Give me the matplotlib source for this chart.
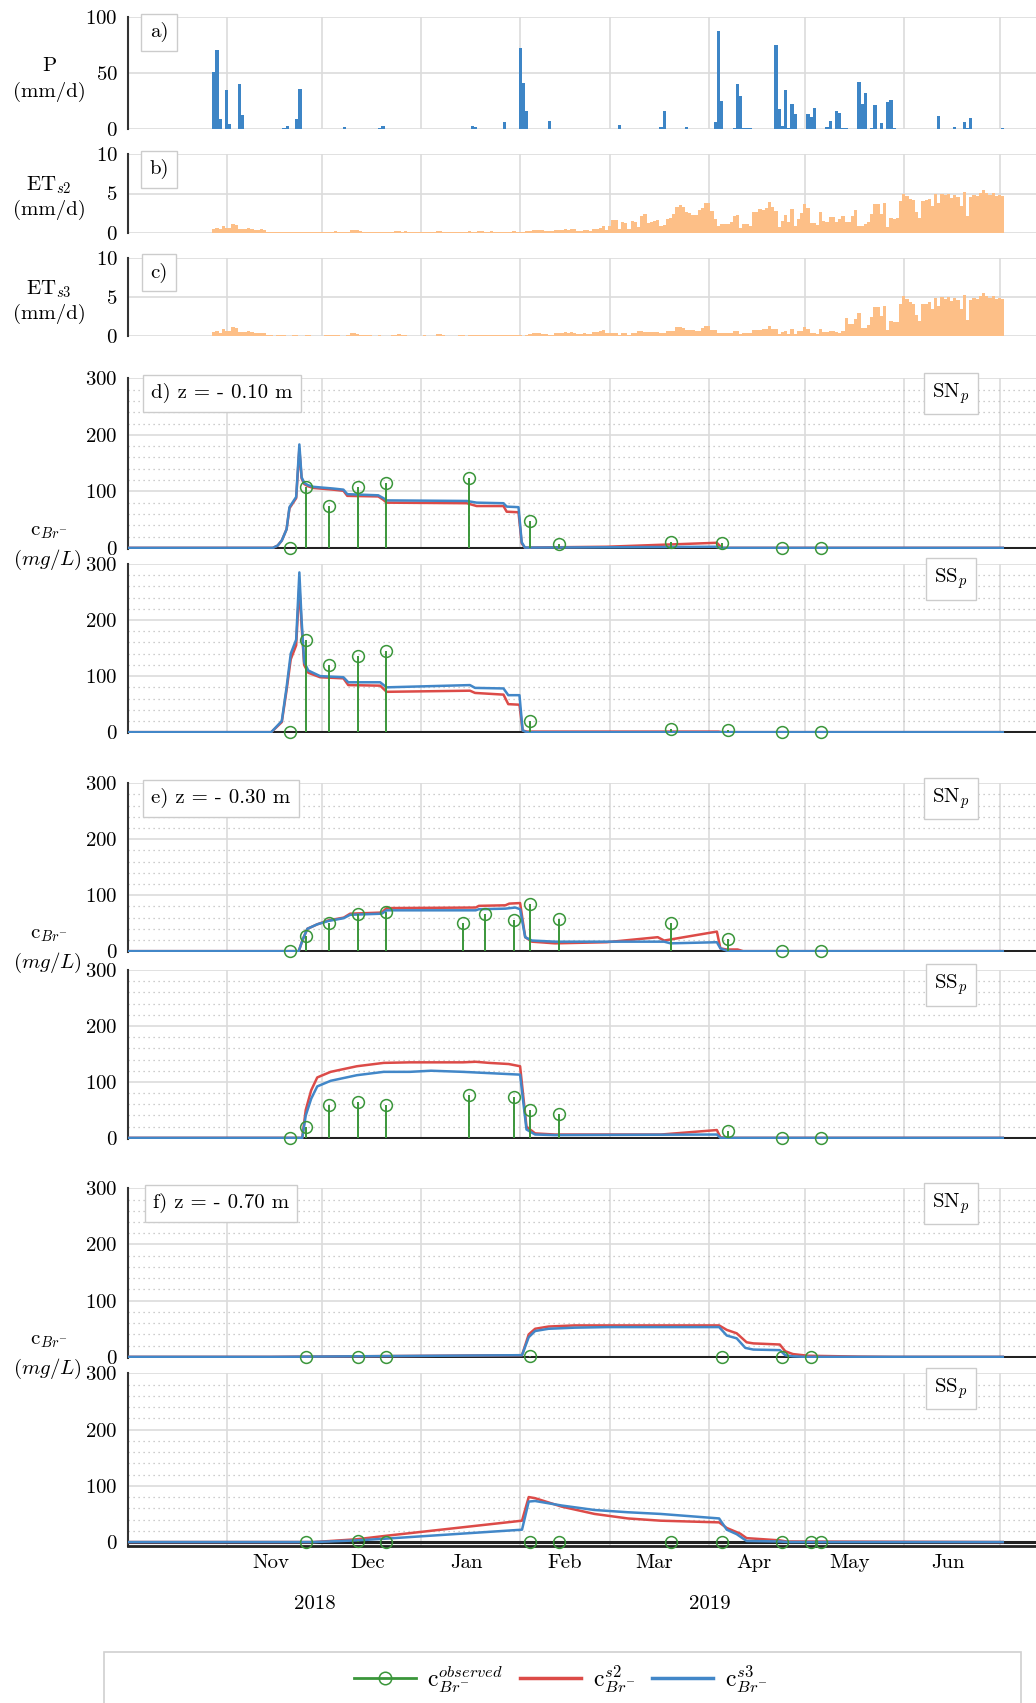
import datetime as dt

import matplotlib
matplotlib.use('Agg')
import matplotlib.pyplot as plt
import matplotlib.dates as mdates
import numpy as np
from matplotlib.legend_handler import HandlerLine2D
from matplotlib.lines import Line2D
from matplotlib.patches import Rectangle
from matplotlib.ticker import FixedLocator, MultipleLocator, NullFormatter

plt.rcParams['font.family'] = 'serif'
plt.rcParams['font.serif'] = ['cmr10']
plt.rcParams['mathtext.fontset'] = 'cm'
plt.rcParams['axes.formatter.use_mathtext'] = True
plt.rcParams['axes.unicode_minus'] = False
plt.rcParams['font.size'] = 15

# days counted from 2018-10-01
T0 = mdates.date2num(dt.datetime(2018, 10, 1))

# ---- precipitation (mm/d)
P_days = [27, 28, 29, 31, 32, 34, 35, 36, 41, 49, 50, 53, 54, 55, 57, 66, 68, 79, 80,
          108, 109, 114, 115, 118, 123, 124, 125, 132, 133, 154, 155, 156, 167, 168, 175,
          184, 185, 186, 190, 191, 192, 193, 194, 195, 203, 204, 205, 206, 207, 208, 209,
          213, 214, 215, 219, 220, 222, 223, 224, 225, 229, 230, 231, 233, 234, 236, 238,
          239, 240, 248, 254, 259, 262, 263, 264, 274]
P_vals = [51.5, 70.8, 9.2, 35, 4.8, 0.5, 40.8, 12.5, 0.6, 0.8, 2.7, 9.2, 35.7, 0.3, 0.3, 0.3, 2.4, 1.2, 3.0,
          2.7, 1.8, 0.6, 0.3, 6.5, 72.3, 41.4, 16.7, 7.1, 0.3, 4.2, 0.3, 0.5, 2, 16.5, 2,
          6.5, 88, 25, 1.5, 40.5, 30, 1, 1, 1, 75.6, 18, 3.3, 35, 1, 23, 14,
          14, 10.7, 18.7, 2, 7, 16.7, 14.3, 1, 1, 42, 22.6, 32, 1, 21.4, 5.4, 24,
          26, 1, 0.3, 11.6, 2.4, 6.5, 1.5, 9.8, 1]

# ---- evapotranspiration (mm/d), daily from day 27 to day 274
ET_early = [0.47, 0.60, 0.43, 0.86, 0.60, 0.65, 1.12, 1.03, 0.47, 0.50,
            0.50, 0.60, 0.50, 0.35, 0.38, 0.43, 0.35, 0.10, 0.08, 0.06,
            0.08, 0.10, 0.08, 0.06, 0.06, 0.10, 0.08, 0.06, 0.06, 0.13,
            0.10, 0.06, 0.06, 0.06, 0.06, 0.13, 0.13, 0.08, 0.17, 0.08,
            0.06, 0.06, 0.10, 0.35, 0.40, 0.30, 0.17, 0.10, 0.08, 0.13,
            0.06, 0.06, 0.08, 0.06, 0.06, 0.06, 0.08, 0.17, 0.22, 0.10,
            0.17, 0.06, 0.06, 0.06, 0.06, 0.06, 0.13, 0.06, 0.06, 0.06,
            0.22, 0.22, 0.10, 0.06, 0.06, 0.06, 0.06, 0.13, 0.10, 0.06,
            0.17, 0.13, 0.10,
            0.17, 0.17, 0.13, 0.08, 0.17, 0.13, 0.08, 0.13, 0.08, 0.13,
            0.13, 0.17, 0.08, 0.13, 0.05, 0.17, 0.26, 0.35, 0.35, 0.35,
            0.30, 0.26, 0.17, 0.17, 0.35, 0.35, 0.35, 0.48, 0.40, 0.52,
            0.43, 0.26, 0.26, 0.35, 0.30, 0.26, 0.48, 0.52]
ET_s2_late = [0.6, 0.8, 0.35, 0.9, 1.65, 1.65, 0.5, 1.4, 1.25, 0.5,
              1.43, 1.35, 0.7, 2.1, 2.4, 1.25, 1.4, 1.55, 1.65, 0.9,
              0.95, 1.73, 1.9, 2.4, 3.3, 3.5, 3.3, 2.65, 2.55, 2.2,
              2.3, 2.85, 3.15, 3.8, 3.8, 2.75, 1.75, 0.8, 1.05, 1.05,
              1.1, 1.4, 2.1, 2.3, 0.6, 1.05, 1.1, 0.9, 2.6, 2.65,
              3.05, 2.95, 3.2, 3.95, 3.3, 2.75, 0.7, 1.5, 2.3, 1.4,
              3.0, 0.9, 1.8, 2.5, 3.65, 3.15, 1.2, 1.2, 0.95, 2.65,
              1.5, 1.4, 2.0, 2.0, 1.35, 1.8, 2.15, 1.4, 1.4, 2.1,
              2.85, 0.9, 0.9, 1.1, 1.35, 2.35, 3.65, 3.65, 2.4, 3.8,
              0.7, 1.9, 1.78, 1.85, 4.05, 5.0, 4.7, 4.35, 4.15, 2.7,
              1.9, 4.1, 4.15, 4.35, 3.45, 4.9, 3.8, 5.0, 4.75, 5.0,
              4.45, 4.8, 4.6, 3.4, 5.25, 2.1, 4.6, 4.8, 4.7, 5.1,
              5.45, 5.1, 4.8, 5.1, 4.7, 4.8, 4.7]
ET_s3_late = [0.6, 0.78, 0.43, 0.43, 0.43, 0.43, 0.17, 0.39, 0.39, 0.17,
              0.43, 0.43, 0.7, 0.7, 0.47, 0.47, 0.47, 0.47, 0.47, 0.35,
              0.35, 0.6, 0.6, 0.6, 1.12, 1.12, 1.0, 0.78, 0.78, 0.78,
              0.7, 0.7, 1.03, 1.3, 1.3, 0.73, 0.73, 0.35, 0.35, 0.35,
              0.35, 0.35, 0.65, 0.65, 0.26, 0.39, 0.39, 0.39, 0.82, 0.82,
              0.82, 0.95, 0.95, 1.25, 0.95, 0.95, 0.26, 0.5, 0.6, 0.22,
              0.95, 0.22, 0.6, 0.6, 1.2, 0.95, 0.35, 0.35, 0.26, 0.86,
              0.5, 0.5, 0.6, 0.6, 0.5, 0.35, 0.6, 2.24, 1.5, 1.5,
              2.15, 2.9, 1.03, 1.03, 1.38, 2.4, 3.7, 3.7, 2.5, 3.85,
              0.73, 1.9, 1.8, 1.8, 4.1, 5.1, 4.7, 4.35, 4.15, 2.7,
              1.9, 4.1, 4.15, 4.35, 3.45, 4.9, 3.8, 5.0, 4.75, 5.0,
              4.45, 4.8, 4.6, 3.4, 5.25, 2.1, 4.6, 4.8, 4.7, 5.1,
              5.45, 5.1, 4.8, 5.1, 4.7, 4.8, 4.7]
ET_s2 = ET_early + ET_s2_late
ET_s3 = ET_early + ET_s3_late
ET_days = np.arange(27, 27 + len(ET_s2))

# ---- bromide concentrations (mg/L)
# d) z = -0.10 m
dSN_obs_days = [51, 56, 63, 72, 81, 107, 126, 135, 170, 186, 205, 217]
dSN_obs = [0, 107, 74, 107, 115, 124, 47, 7, 11, 8, 0, 0]
dSN_s2_days = [0, 45.5, 47, 48.3, 49.8, 50.7, 52.8, 53.8, 54.5, 55.3, 56.5, 58.2, 64.4, 67.6, 68.8,
               78.5, 80.1, 81.1, 106.2, 109.3, 117.7, 118.7, 122.4, 123.4, 124.4, 150, 184.5, 186, 274]
dSN_s2 = [0, 0, 4, 13, 33, 70, 88, 175, 123, 113, 109, 106, 103, 101, 92,
          91, 85, 80, 79, 74, 74, 64, 63, 8, 0.5, 2, 9, 0, 0]
dSN_s3_days = [0, 45.5, 47, 48.3, 49.8, 50.7, 52.8, 53.8, 54.5, 55.3, 56.5, 58.2, 64.4, 67.6, 68.8,
               78.5, 80.1, 81.1, 106.2, 109.3, 117.7, 118.7, 122.4, 123.4, 124.4, 150, 184, 186, 274]
dSN_s3 = [0, 0, 4, 13, 33, 72, 90, 183, 125, 115, 111, 108, 105, 103, 95,
          93, 88, 84, 83, 80, 79, 73, 72, 10, 0.5, 1, 2, 0, 0]

dSS_obs_days = [51, 56, 63, 72, 81, 126, 170, 188, 205, 217]
dSS_obs = [0, 165, 120, 136, 145, 20, 5, 3, 0, 0]
dSS_s2_days = [0, 45, 48.3, 49.8, 51.1, 52.8, 53.8, 54.5, 55.3, 56.6, 60.3, 67.6, 69.1, 79.1, 81.1,
               107.2, 108.8, 117.7, 119.2, 122.7, 123.7, 125, 185, 186, 274]
dSS_s2 = [0, 0, 18, 75, 130, 155, 262, 190, 120, 106, 98, 96, 84, 83, 72,
          74, 70, 67, 50, 49, 3, 1, 1, 0, 0]
dSS_s3_days = [0, 45, 48.3, 49.8, 51.1, 52.8, 53.8, 54.5, 55.3, 56.6, 60.3, 67.6, 69.1, 79.1, 81.1,
               107.2, 108.8, 117.7, 119.2, 122.7, 123.7, 125, 274]
dSS_s3 = [0, 0, 20, 80, 140, 165, 285, 200, 125, 110, 100, 98, 89, 89, 80,
          84, 79, 78, 66, 66, 3, 0, 0]

# e) z = -0.30 m
eSN_obs_days = [51, 56, 63, 72, 81, 105, 112, 121, 126, 135, 170, 188, 205, 217]
eSN_obs = [0, 28, 51, 66, 70, 51, 67, 55, 85, 57, 51, 22, 0, 0]
eSN_s2_days = [0, 53.6, 54.8, 56.3, 59.4, 62.9, 67.7, 69.7, 79.6, 81.1, 109, 110, 118.3, 119.5, 122.9,
               124.5, 126.6, 133.8, 150, 166, 168, 184.5, 185.6, 187.6, 191, 192.7, 274]
eSN_s2 = [0, 0, 20, 40, 48, 55, 60, 67, 69, 77, 78, 81, 82, 85, 86,
          25, 17, 14, 16, 25, 19, 35, 5, 3, 3, 0, 0]
eSN_s3_days = [0, 53.6, 54.8, 56.3, 59.4, 62.9, 67.7, 69.7, 79.6, 81.1, 109, 110, 118.3, 121.4, 122.9,
               124.5, 126.6, 133.8, 168, 170, 184.5, 185.6, 187.6, 190, 274]
eSN_s3 = [0, 0, 20, 40, 48, 54, 59, 65, 67, 73, 73, 75, 76, 78, 75,
          25, 19, 17, 17, 14, 16, 5, 1, 0, 0]

eSS_obs_days = [51, 56, 63, 72, 81, 107, 121, 126, 135, 188, 205, 217]
eSS_obs = [0, 20, 58, 65, 58, 76, 73, 49, 42, 12, 0, 0]
eSS_s2_days = [0, 54.7, 55.8, 57.5, 59.4, 63.6, 71.8, 80.2, 88.4, 105, 109, 113.2, 119.3, 122.9,
               124.9, 127.6, 133.8, 167, 184.5, 185.6, 188, 274]
eSS_s2 = [0, 0, 50, 85, 108, 118, 128, 134, 135, 135, 136, 134, 132, 128,
          20, 8, 6, 6, 14, 1, 0, 0]
eSS_s3_days = [0, 54.7, 55.8, 57.5, 59.4, 63.6, 71.8, 80.2, 88.4, 95, 105, 122.9,
               124.9, 127.6, 133.8, 184.5, 185.6, 274]
eSS_s3 = [0, 0, 40, 70, 92, 102, 112, 118, 118, 120, 118, 113,
          15, 6, 5, 6, 0, 0]

# f) z = -0.70 m
fSN_obs_days = [56, 72, 81, 126, 186, 205, 214]
fSN_obs = [0, 0, 0, 2, 0, 0, 0]
fSN_s2_days = [0, 45, 123.5, 125.6, 127.6, 131.8, 140, 185.2, 187.6, 190.7, 193.8, 195.9, 204.2,
               205.9, 208.3, 213, 229, 240, 274]
fSN_s2 = [0, 0, 3, 40, 50, 54, 56, 56, 48, 42, 26, 24, 22,
          10, 5, 2, 0.5, 0, 0]
fSN_s3_days = [0, 45, 123.5, 125.6, 127.6, 131.8, 140, 150.4, 185.2, 187.6, 190.7, 193.4, 195.9,
               204.2, 205.9, 208.3, 212, 274]
fSN_s3 = [0, 0, 3, 35, 46, 50, 52, 53, 53, 38, 33, 16, 13,
          12, 3, 1, 0, 0]

fSS_obs_days = [56, 72, 81, 126, 135, 170, 186, 205, 214, 217]
fSS_obs = [0, 2, 0, 0, 0, 0, 0, 0, 0, 0]
fSS_s2_days = [0, 58.3, 71.8, 80.7, 123.5, 125.6, 127.6, 135.9, 146.2, 156.6, 166.9, 185.2, 187.6,
               191.8, 193.8, 204.2, 206.3, 274]
fSS_s2 = [0, 0, 5, 11, 38, 80, 78, 63, 50, 42, 38, 35, 25,
          15, 7, 3, 1, 0]
fSS_s3_days = [0, 58.3, 71.8, 80.7, 123.5, 125.6, 127.6, 135.9, 146.2, 156.6, 166.9, 185.2, 187.6,
               190.7, 193.8, 204.2, 207, 274]
fSS_s3 = [0, 0, 3, 6, 22, 72, 73, 65, 57, 53, 50, 42, 22,
          14, 2, 1, 0, 0]

GREEN = '#3a963a'
RED = '#dc4b48'
BLUE = '#4287c8'
BAR_BLUE = '#3d85c6'
ORANGE = '#fdbf87'

W, H = 1036, 1703
fig = plt.figure(figsize=(W / 100, H / 100), dpi=100)


def rect(top, bottom):
    return [127.5 / W, 1 - bottom / H, 1 - 127.5 / W, (bottom - top) / H]


def style(ax, bottom=False):
    ax.set_xlim(T0, T0 + 284.4)
    ax.xaxis.set_major_locator(mdates.MonthLocator())
    ax.xaxis.set_major_formatter(NullFormatter())
    ax.xaxis.set_minor_locator(mdates.MonthLocator(bymonth=[11, 12, 1, 2, 3, 4, 5, 6], bymonthday=15))
    if bottom:
        ax.xaxis.set_minor_formatter(mdates.DateFormatter('%b'))
    else:
        ax.xaxis.set_minor_formatter(NullFormatter())
    ax.tick_params(which='both', length=0)
    ax.tick_params(axis='y', pad=7)
    ax.tick_params(axis='x', which='minor', pad=6)
    ax.grid(True, which='major', color='#dcdcdc', lw=1.2)
    ax.set_axisbelow(True)
    for s in ['top', 'right', 'bottom']:
        ax.spines[s].set_visible(False)
    ax.spines['left'].set_color('#333333')
    ax.spines['left'].set_linewidth(1.5)


def label_box(top, x, s):
    fig.text(x / W, 1 - (top + 15) / H, s, ha='center', va='center',
             bbox=dict(boxstyle='square,pad=0.4', fc='white', ec='#cccccc', lw=1))


def conc_panel(ax, od, ov, rd, rv, bd, bv, bottom=False):
    style(ax, bottom)
    ax.set_ylim(-7 if bottom else -2, 300)
    ax.yaxis.set_major_locator(FixedLocator([0, 100, 200, 300]))
    ax.yaxis.set_minor_locator(MultipleLocator(20))
    ax.grid(True, which='minor', axis='y', color='#bdbdbd', lw=0.9, ls=(0, (1, 3)))
    ax.axhline(0, color='#222222', lw=2.2, zorder=2)
    ax.plot(T0 + np.array(rd), rv, color=RED, lw=1.8, zorder=3)
    ax.plot(T0 + np.array(bd), bv, color=BLUE, lw=1.8, zorder=4)
    od = T0 + np.array(od)
    ov = np.array(ov)
    ax.vlines(od[ov > 0], 0, ov[ov > 0], color=GREEN, lw=1.4, zorder=5)
    ax.plot(od, ov, 'o', mfc='none', mec=GREEN, ms=8.5, mew=1.1, zorder=6, clip_on=False)
    if bottom:
        ax.spines['bottom'].set_visible(True)
        ax.spines['bottom'].set_color('#222222')
        ax.spines['bottom'].set_linewidth(2)


# a) precipitation
ax = fig.add_axes(rect(17.3, 129.3))
style(ax)
ax.bar(T0 + np.array(P_days), P_vals, width=1, color=BAR_BLUE, lw=0)
ax.set_ylim(0, 100)
ax.set_yticks([0, 50, 100])
label_box(17.3, 159, 'a)')

# b), c) evapotranspiration
for (top, bot), et, lab in [((154.3, 232.7), ET_s2, 'b)'), ((257.7, 336), ET_s3, 'c)')]:
    ax = fig.add_axes(rect(top, bot))
    style(ax)
    ax.bar(T0 + ET_days, et, width=1, color=ORANGE, lw=0)
    ax.set_ylim(0, 10)
    ax.set_yticks([0, 5, 10])
    label_box(top, 159, lab)

panels = [
    ((378.3, 549), dSN_obs_days, dSN_obs, dSN_s2_days, dSN_s2, dSN_s3_days, dSN_s3, 'SN'),
    ((564, 733.3), dSS_obs_days, dSS_obs, dSS_s2_days, dSS_s2, dSS_s3_days, dSS_s3, 'SS'),
    ((783.3, 952.3), eSN_obs_days, eSN_obs, eSN_s2_days, eSN_s2, eSN_s3_days, eSN_s3, 'SN'),
    ((970, 1139), eSS_obs_days, eSS_obs, eSS_s2_days, eSS_s2, eSS_s3_days, eSS_s3, 'SS'),
    ((1188.3, 1358), fSN_obs_days, fSN_obs, fSN_s2_days, fSN_s2, fSN_s3_days, fSN_s3, 'SN'),
    ((1373.3, 1546), fSS_obs_days, fSS_obs, fSS_s2_days, fSS_s2, fSS_s3_days, fSS_s3, 'SS'),
]
for i, ((top, bot), od, ov, rd, rv, bd, bv, plot_name) in enumerate(panels):
    ax = fig.add_axes(rect(top, bot))
    conc_panel(ax, od, ov, rd, rv, bd, bv, bottom=(i == len(panels) - 1))
    label_box(top, 951, r'$\mathrm{%s}_p$' % plot_name)

label_box(378.3, 222, 'd) z = - 0.10 m')
label_box(783.3, 221, 'e) z = - 0.30 m')
label_box(1188.3, 221, 'f) z = - 0.70 m')


# y labels
def ftext(x, y, s, **kw):
    fig.text(x / W, 1 - y / H, s, ha='center', va='center', **kw)


ftext(49, 66, 'P')
ftext(49, 92, '(mm/d)')
ftext(49, 185, r'$\mathrm{ET}_{s2}$')
ftext(49, 210, '(mm/d)')
ftext(49, 289, r'$\mathrm{ET}_{s3}$')
ftext(49, 314, '(mm/d)')
for yb in [549, 952.3, 1358]:
    ftext(49, yb - 17, r'$\mathrm{c}_{Br^{-}}$')
    ftext(47, yb + 11, r'$(mg/L)$')

ftext(315, 1604, '2018')
ftext(710, 1604, '2019')


# legend: observed entry shows the circle at the right end of its line
class RightMarkerHandler(HandlerLine2D):
    def get_xdata(self, legend, xdescent, ydescent, width, height, fontsize):
        xdata = np.array([-xdescent, -xdescent + width])
        return xdata, xdata[1:] - 3


obs_handle = Line2D([], [], color=GREEN, lw=2, marker='o', mfc='none', mec=GREEN, ms=9, mew=1.1)
handles = [obs_handle, Line2D([], [], color=RED, lw=2.5), Line2D([], [], color=BLUE, lw=2.5)]
labels = [r'$\mathrm{c}_{Br^{-}}^{observed}$', r'$\mathrm{c}_{Br^{-}}^{s2}$', r'$\mathrm{c}_{Br^{-}}^{s3}$']
fig.legend(handles, labels, loc='center', bbox_to_anchor=(561 / W, 1 - 1679 / H), ncol=3,
           frameon=False, fontsize=17, handlelength=2.6, columnspacing=0.7, handletextpad=0.5,
           handler_map={obs_handle: RightMarkerHandler()})
fig.patches.append(Rectangle((104 / W, 1 - 1712 / H), (1021 - 104) / W, (1712 - 1652) / H,
                             transform=fig.transFigure, fill=False, ec='#d0d0d0', lw=1.2))

fig.savefig('out.png', dpi=100)
